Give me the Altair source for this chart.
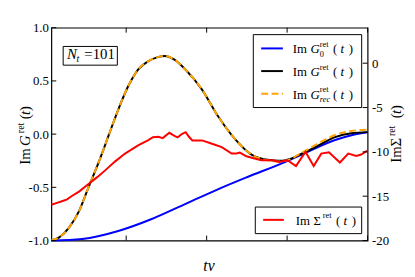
import altair as alt
import pandas as pd

# ---- data ----
t_g0 = [0.035, 0.227, 0.451, 0.655, 0.859, 1.063, 1.25, 1.49, 1.614, 1.798, 1.9, 2.0]
g0 = [-1.0, -0.985, -0.91, -0.80, -0.662, -0.523, -0.405, -0.26, -0.175, -0.055, -0.01, 0.018]

t_g = [0.035, 0.084, 0.145, 0.207, 0.264, 0.33, 0.391, 0.452, 0.513, 0.574, 0.635, 0.696,
       0.74, 0.80, 0.868, 0.97, 1.072, 1.174, 1.276, 1.39, 1.45, 1.492, 1.594, 1.696,
       1.798, 1.9, 2.0]
g = [-1.0, -0.97, -0.878, -0.724, -0.507, -0.26, -0.012, 0.236, 0.452, 0.607, 0.684, 0.724,
     0.735, 0.70, 0.607, 0.421, 0.165, -0.043, -0.19, -0.244, -0.25, -0.244, -0.182, -0.105,
     -0.028, 0.009, 0.019]

t_rec = t_g
g_rec = [-1.0, -0.97, -0.878, -0.724, -0.507, -0.26, -0.012, 0.236, 0.452, 0.607, 0.684, 0.724,
         0.735, 0.70, 0.607, 0.421, 0.165, -0.043, -0.19, -0.25, -0.258, -0.25, -0.172, -0.085,
         -0.008, 0.03, 0.042]

t_sig = [0.035, 0.07, 0.096, 0.133, 0.16, 0.207, 0.264, 0.32, 0.371, 0.43, 0.493, 0.574,
         0.635, 0.666, 0.70, 0.727, 0.768, 0.80, 0.819, 0.845, 0.870, 0.89, 0.911, 0.972,
         1.033, 1.094, 1.155, 1.186, 1.206, 1.247, 1.298, 1.339, 1.41, 1.451, 1.502, 1.555,
         1.614, 1.665, 1.712, 1.76, 1.828, 1.88, 1.93, 1.96, 2.0]
sig = [-15.96, -15.75, -15.6, -15.35, -15.0, -14.48, -13.65, -12.85, -12.06, -11.1, -10.19, -9.27,
       -8.71, -8.34, -8.3, -8.45, -7.85, -8.2, -8.37, -8.0, -7.78, -8.3, -8.71, -8.71,
       -9.08, -9.46, -10.19, -10.19, -10.08, -10.5, -10.75, -10.94, -10.94, -11.13, -10.94, -11.6,
       -10.0, -11.6, -10.2, -10.05, -11.2, -10.2, -10.45, -10.3, -9.85]

x_ticks = [0.5, 1.0, 1.5, 2.0]
left_ticks = [-1.0, -0.5, 0.0, 0.5, 1.0]
right_ticks = [-20, -15, -10, -5, 0]

X_DOM = [0.035, 2.0]
YL_DOM = [-1.0, 1.0]
YR_DOM = [-20, 4]

FONT = "Liberation Serif, DejaVu Serif, serif"
W, H = 321, 216

xs = alt.Scale(domain=X_DOM, nice=False, zero=False)
yls = alt.Scale(domain=YL_DOM, nice=False, zero=False)
yrs = alt.Scale(domain=YR_DOM, nice=False, zero=False)

fix_minus = "replace(datum.label, '\u2212', '-')"
x_axis = alt.Axis(values=x_ticks, format=".1f", labelFlush=False, title=None,
                  labelPadding=3, labelExpr=fix_minus)
yl_axis = alt.Axis(values=left_ticks, format=".1f", title=None, orient="left",
                   labelPadding=3, labelExpr=fix_minus)
yr_axis = alt.Axis(values=right_ticks, format="d", title=None, orient="right",
                   labelPadding=4, labelExpr=fix_minus)

df_g0 = pd.DataFrame({"t": t_g0, "v": g0})
df_g = pd.DataFrame({"t": t_g, "v": g})
df_rec = pd.DataFrame({"t": t_rec, "v": g_rec})
df_sig = pd.DataFrame({"t": t_sig, "v": sig})

blue = alt.Chart(df_g0).mark_line(color="#0000ff", strokeWidth=2, interpolate="monotone").encode(
    x=alt.X("t:Q", scale=xs, axis=x_axis), y=alt.Y("v:Q", scale=yls, axis=yl_axis))
black = alt.Chart(df_g).mark_line(color="black", strokeWidth=2, interpolate="monotone").encode(
    x=alt.X("t:Q", scale=xs, axis=None), y=alt.Y("v:Q", scale=yls, axis=None))
orange = alt.Chart(df_rec).mark_line(color="#ffa500", strokeWidth=2, strokeDash=[7, 3.5],
                                     interpolate="monotone").encode(
    x=alt.X("t:Q", scale=xs, axis=None), y=alt.Y("v:Q", scale=yls, axis=None))
red = alt.Chart(df_sig).mark_line(color="#ff0000", strokeWidth=2).encode(
    x=alt.X("t:Q", scale=xs, axis=None), y=alt.Y("v:Q", scale=yrs, axis=yr_axis))

df_xt = pd.DataFrame({"v": x_ticks})
df_ylt = pd.DataFrame({"v": left_ticks})
df_yrt = pd.DataFrame({"v": right_ticks})
TL = 5
xt_bot = alt.Chart(df_xt).mark_rule(color="black", strokeWidth=1).encode(
    x=alt.X("v:Q", scale=xs, axis=None), y=alt.value(H), y2=alt.value(H - TL))
xt_top = alt.Chart(df_xt).mark_rule(color="black", strokeWidth=1).encode(
    x=alt.X("v:Q", scale=xs, axis=None), y=alt.value(0), y2=alt.value(TL))
ylt = alt.Chart(df_ylt).mark_rule(color="black", strokeWidth=1).encode(
    y=alt.Y("v:Q", scale=yls, axis=None), x=alt.value(0), x2=alt.value(TL))
yrt = alt.Chart(df_yrt).mark_rule(color="black", strokeWidth=1).encode(
    y=alt.Y("v:Q", scale=yrs, axis=None), x=alt.value(W - TL), x2=alt.value(W))

one = pd.DataFrame({"a": [0]})


def txt(s, x, y, size=13, italic=False, angle=0, align="left"):
    kw = dict(text=s, align=align, baseline="alphabetic", font=FONT, fontSize=size,
              color="black", fontStyle="italic" if italic else "normal")
    if angle:
        kw["angle"] = angle
    return alt.Chart(one).mark_text(**kw).encode(x=alt.value(x), y=alt.value(y))


def box(x1, y1, x2, y2):
    return alt.Chart(one).mark_rect(fill="white", stroke="black", strokeWidth=1).encode(
        x=alt.value(x1), x2=alt.value(x2), y=alt.value(y1), y2=alt.value(y2))


def sample(color, y, dash=None):
    kw = dict(color=color, strokeWidth=2)
    if dash:
        kw["strokeDash"] = dash
    return alt.Chart(one).mark_rule(**kw).encode(x=alt.value(213), x2=alt.value(235), y=alt.value(y))


ann = []
# top legend
ann.append(box(205, 7, 315, 81))
rows = [21, 44, 67]
ann.append(sample("#0000ff", rows[0]))
ann.append(sample("black", rows[1]))
ann.append(sample("#ffa500", rows[2], [7, 3.5]))
for i, r in enumerate(rows):
    ann.append(txt("Im", 245, r + 5))
    ann.append(txt("G", 263, r + 5, italic=True))
    ann.append(txt("ret", 272.5, r - 1.5, size=8.5))
    if i == 0:
        ann.append(txt("0", 272.5, r + 8.5, size=8.5))
    if i == 2:
        ann.append(txt("rec", 272.5, r + 8.5, size=8.5, italic=True))
    ann.append(txt("(", 286, r + 5))
    ann.append(txt("t", 293.5, r + 5, italic=True))
    ann.append(txt(")", 302, r + 5))

# bottom legend
ann.append(box(207, 182, 315, 209))
rb = 195
ann.append(alt.Chart(one).mark_rule(color="#ff0000", strokeWidth=2).encode(
    x=alt.value(215), x2=alt.value(236), y=alt.value(rb)))
ann.append(txt("Im", 248, rb + 5))
ann.append(txt("\u03a3", 266, rb + 5))
ann.append(txt("ret", 275.5, rb - 1.5, size=8.5))
ann.append(txt("(", 289, rb + 5))
ann.append(txt("t", 296.5, rb + 5, italic=True))
ann.append(txt(")", 305, rb + 5))

# N_t box
ann.append(box(12, 19, 67, 38))
ann.append(txt("N", 16, 32, size=15, italic=True))
ann.append(txt("t", 25.5, 35, size=10, italic=True))
ann.append(txt("=", 33.5, 32, size=15))
ann.append(txt("101", 42, 32, size=15))

# left y title (rotated)
ann.append(txt("Im", -22, 139, size=15, angle=270))
ann.append(txt("G", -22, 120, size=15, italic=True, angle=270))
ann.append(txt("ret", -28, 107, size=10, angle=270))
ann.append(txt("(", -22, 93, size=15, angle=270))
ann.append(txt("t", -22, 88.5, size=15, italic=True, angle=270))
ann.append(txt(")", -22, 84.5, size=15, angle=270))

# right y title (rotated)
ann.append(txt("Im", 355, 137, size=15, angle=270))
ann.append(txt("\u03a3", 355, 120.5, size=15, angle=270))
ann.append(txt("ret", 349, 110, size=10, angle=270))
ann.append(txt("(", 355, 92, size=15, angle=270))
ann.append(txt("t", 355, 87.5, size=15, italic=True, angle=270))
ann.append(txt(")", 355, 83.5, size=15, angle=270))

# x title
ann.append(txt("tv", 160, 247, size=16, italic=True, align="center"))

chart = alt.layer(blue, black, orange, red, xt_bot, xt_top, ylt, yrt, *ann).resolve_scale(
    y="independent"
).properties(
    width=W, height=H,
    autosize=alt.AutoSizeParams(type="none"),
    padding={"left": 44, "top": 18, "right": 40, "bottom": 36},
    background="white",
).configure_view(
    stroke="black", strokeWidth=1.2
).configure_axis(
    labelFont=FONT, labelFontSize=13, labelColor="black", ticks=False, domain=False, grid=False
)

chart.save("out.html", embed_options={"renderer": "svg", "actions": False})
